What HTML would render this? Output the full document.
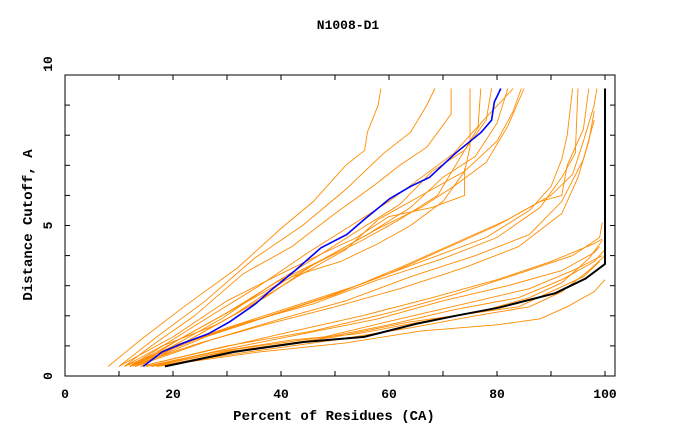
<!DOCTYPE html>
<html><head><meta charset="utf-8"><style>
body{margin:0;background:#fff}
svg text{font-family:"Liberation Mono",monospace;font-weight:bold;fill:#000}
</style></head><body>
<svg id="chart" width="680" height="440" xmlns="http://www.w3.org/2000/svg">
<text x="348" y="29" font-size="13" text-anchor="middle">N1008-D1</text>
<text x="334" y="420" font-size="14" text-anchor="middle">Percent of Residues (CA)</text>
<text transform="translate(32,225) rotate(-90)" font-size="14" text-anchor="middle">Distance Cutoff, A</text>
<g id="ticks"></g><g id="lines"></g>
<rect x="65" y="75" width="550" height="301" fill="none" stroke="#000" stroke-width="1"/>
</svg>
<script>
const xTicks=[0,20,40,60,80,100];
const yTicks=[0,5,10];
const blueSeries=[[14.5,0.32],[18,0.8],[22,1.1],[26.5,1.4],[30.5,1.8],[35.3,2.4],[37.8,2.8],[42.6,3.5],[47.4,4.26],[52.2,4.7],[55.4,5.2],[60.2,5.9],[64,6.3],[67.5,6.6],[72.3,7.4],[77.1,8.1],[79,8.5],[79.5,9.1],[80.7,9.55]];
const blackSeries=[[18.5,0.32],[31.3,0.8],[44.2,1.13],[55.4,1.3],[65,1.73],[72.3,2.0],[80.3,2.27],[90.8,2.75],[96.4,3.24],[100,3.72],[100,9.55]];
const orangeSeries=[
[[8,0.32],[14,1.2],[22,2.3],[32,3.6],[40,4.9],[46,5.8],[52,7.0],[55.5,7.5],[56,8.1],[58,9.0],[58.5,9.55]],
[[10,0.32],[17,1.3],[26,2.5],[35,3.9],[44,5.0],[52,6.2],[59,7.4],[64,8.1],[67,9.0],[68.5,9.55]],
[[11,0.32],[16,1.0],[24,2.0],[33,3.4],[42,4.3],[50,5.4],[57,6.3],[62,7.0],[67,7.6],[71.5,8.7],[71.5,9.55]],
[[12,0.32],[19,1.1],[27,2.0],[36,3.0],[45,4.1],[53,5.0],[60,5.8],[66,6.6],[72,7.4],[76.5,8.3],[77,9.55]],
[[12.5,0.32],[20,1.0],[29,1.9],[38,3.0],[47,4.0],[54,4.8],[62,5.7],[68,6.8],[74,7.5],[78,8.5],[79,9.55]],
[[13,0.32],[21,1.2],[30,2.1],[39,3.1],[48,3.9],[56,4.7],[64,5.6],[70,6.6],[76,7.3],[80,8.4],[82,9.55]],
[[11,0.32],[18,1.0],[28,1.7],[37,2.6],[46,3.7],[55,4.5],[62,5.2],[69,6.0],[73,7.2],[77,8.4],[83,9.55]],
[[13,0.32],[22,1.1],[31,2.0],[41,3.2],[50,4.1],[58,4.9],[66,5.6],[72,6.3],[78,7.1],[82,8.3],[85,9.55]],
[[14,0.32],[24,1.3],[33,2.2],[43,3.3],[52,4.2],[58,5.2],[66,6.0],[74,6.8],[80,7.8],[83,8.8],[84.5,9.55]],
[[12,0.32],[21,1.2],[32,2.3],[42,3.3],[51,3.8],[58,4.4],[64,5.0],[70,5.8],[74,6.8],[75,7.6],[75,9.55]],
[[10,0.32],[20,1.3],[30,2.5],[40,3.4],[48,4.1],[54,4.6],[60,5.3],[68,5.6],[74,6.0],[74,6.9]],
[[12,0.32],[20,1.0],[30,1.6],[42,2.3],[54,3.0],[66,3.8],[78,4.6],[86,5.5],[90,6.3],[92,7.2],[93,8.0],[94,9.55]],
[[11,0.32],[22,1.1],[34,1.8],[46,2.4],[58,3.2],[70,3.9],[80,4.6],[88,5.6],[92,6.6],[94.5,7.4],[95,9.55]],
[[12,0.32],[24,1.2],[36,1.9],[48,2.6],[60,3.4],[70,4.2],[80,5.0],[88,5.8],[92,6.0],[93,7.0],[96,8.2],[97,9.55]],
[[13,0.32],[26,1.3],[38,2.0],[50,2.7],[62,3.6],[72,4.4],[82,5.2],[90,6.0],[94,6.7],[96,7.8],[98,9.0],[98.5,9.55]],
[[12,0.32],[25,1.1],[37,1.7],[50,2.3],[62,2.9],[74,3.6],[84,4.3],[92,5.4],[95,6.6],[97,7.8],[98,8.8]],
[[13,0.32],[27,1.2],[40,1.9],[52,2.5],[64,3.3],[76,4.0],[86,4.7],[92,5.8],[96,7.2],[98,8.5]],
[[14,0.32],[28,0.9],[40,1.4],[55,2.0],[68,2.6],[80,3.2],[90,3.8],[98,4.4],[99.5,4.55]],
[[15,0.32],[30,0.9],[44,1.4],[58,1.9],[70,2.5],[82,3.0],[92,3.5],[98,4.1],[99,4.3]],
[[14,0.32],[30,1.0],[46,1.5],[60,2.1],[72,2.7],[84,3.4],[94,4.0],[99,4.6],[99.5,5.1]],
[[16,0.32],[32,0.9],[48,1.3],[62,1.9],[74,2.4],[86,2.9],[94,3.5],[99.5,4.0]],
[[15,0.32],[30,0.8],[46,1.2],[60,1.7],[72,2.2],[84,2.6],[92,3.2],[98,3.8],[100,4.2]],
[[16,0.32],[34,0.8],[50,1.2],[64,1.6],[76,2.0],[86,2.3],[92,2.8],[97,3.5],[100,4.0]],
[[17,0.32],[36,0.8],[52,1.1],[66,1.5],[80,1.7],[88,1.9],[93,2.3],[98,2.8],[100,3.2]],
[[17,0.32],[34,0.9],[50,1.3],[64,1.8],[76,2.1],[84,2.3],[90,2.8],[96,3.3],[99,3.8]],
[[15,0.32],[28,0.8],[42,1.2],[54,1.4],[66,1.8],[78,2.2],[86,2.6],[92,3.1],[97,3.9],[99.5,4.5]]
];
const X=v=>65+v*5.4, Y=v=>376-v*30.1;
const NS='http://www.w3.org/2000/svg';
const tg=document.getElementById('ticks'), lg=document.getElementById('lines');
function mk(t,a){const e=document.createElementNS(NS,t);for(const k in a)e.setAttribute(k,a[k]);return e;}
for(let i=0;i<=10;i++){
 const x=X(i*10);
 const t1=mk('line',{x1:x,x2:x,y1:376,y2:371,stroke:'#000'});
 
 
 tg.appendChild(t1);
 const t2=mk('line',{x1:x,x2:x,y1:75,y2:80,stroke:'#000'});
 
 
 tg.appendChild(t2);
 const y=Y(i);
 const t3=mk('line',{x1:65,x2:70,y1:y,y2:y,stroke:'#000'});
 
 
 tg.appendChild(t3);
 const t4=mk('line',{x1:610,x2:615,y1:y,y2:y,stroke:'#000'});
 
 
 tg.appendChild(t4);
}
xTicks.forEach(v=>{const t=mk('text',{x:X(v),y:398,'font-size':13,'text-anchor':'middle'});t.textContent=v;
 
 
 tg.appendChild(t);});
yTicks.forEach(v=>{const yy=v===10?Y(v)-11:Y(v);const t=mk('text',{transform:`translate(52,${yy}) rotate(-90)`,'font-size':13,'text-anchor':'middle'});t.textContent=v;
 
 
 tg.appendChild(t);});
const pts=s=>s.map(p=>X(p[0]).toFixed(1)+','+Y(p[1]).toFixed(1)).join(' ');
orangeSeries.forEach(s=>{const p=mk('polyline',{points:pts(s),fill:'none',stroke:'#ff8c00','stroke-width':0.9});
 
 
 lg.appendChild(p);});
const b=mk('polyline',{points:pts(blueSeries),fill:'none',stroke:'#0000ff','stroke-width':1.6});


lg.appendChild(b);
const k=mk('polyline',{points:pts(blackSeries),fill:'none',stroke:'#000','stroke-width':2});


lg.appendChild(k);
</script>
</body></html>
